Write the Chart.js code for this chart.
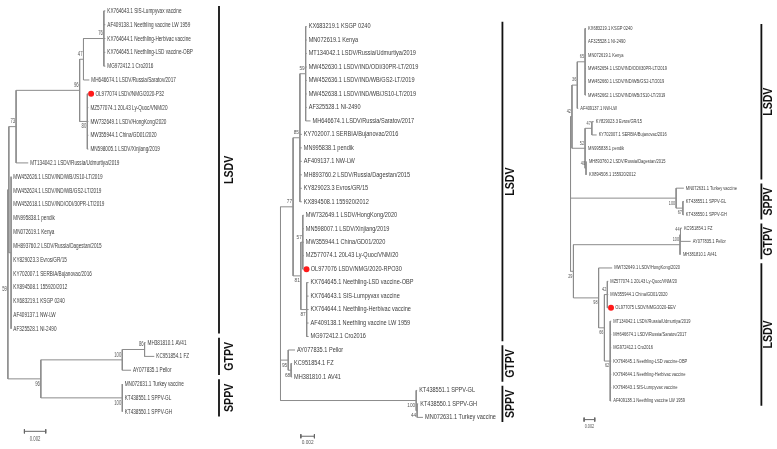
<!DOCTYPE html>
<html>
<head>
<meta charset="utf-8">
<script src="https://cdn.jsdelivr.net/npm/chart.js@4.4.1/dist/chart.umd.min.js"></script>
<style>
html, body { margin: 0; padding: 0; background: #fff; width: 777px; height: 449px; overflow: hidden; }
.panel { position: absolute; top: 0; }
</style>
</head>
<body>
<div class="panel" style="left:0px"><canvas id="tree1" width="260" height="449"></canvas></div>
<div class="panel" style="left:260px"><canvas id="tree2" width="260" height="449"></canvas></div>
<div class="panel" style="left:520px"><canvas id="tree3" width="257" height="449"></canvas></div>
<script>
// ---- tree 1 (P32) ----
const p1Names = [
  'KX764643.1 SIS-Lumpyvax vaccine', 'AF409138.1 Neethling vaccine LW 1959', 'KX764644.1 Neethling-Herbivac vaccine',
  'KX764645.1 Neethling-LSD vaccine-OBP', 'MG972412.1 Cro2016', 'MH646674.1 LSDV/Russia/Saratov/2017',
  'OL977074 LSDV/NMG/2020-P32', 'MZ577074.1 20L43 Ly-Quoc/VNM/20', 'MW732649.1 LSDV/HongKong/2020',
  'MW355944.1 China/GD01/2020', 'MN598005.1 LSDV/Xinjiang/2019', 'MT134042.1 LSDV/Russia/Udmurtiya/2019',
  'MW452626.1 LSDV/IND/WB/JS10-LT/2019', 'MW452624.1 LSDV/IND/WB/GS2-LT/2019', 'MW452618.1 LSDV/IND/ODI/30PR-LT/2019',
  'MN995838.1 pendik', 'MN072619.1 Kenya', 'MH893760.2 LSDV/Russia/Dagestan/2015', 'KY829023.3 Evros/GR/15',
  'KY702007.1 SERBIA/Bujanovac/2016', 'KX894508.1 155920/2012', 'KX683219.1 KSGP 0240', 'AF409137.1 NW-LW',
  'AF325528.1 NI-2490', 'MH381810.1 AV41', 'KC951854.1 FZ', 'AY077835.1 Pellor', 'MN072631.1 Turkey vaccine',
  'KT438551.1 SPPV-GL', 'KT438550.1 SPPV-GH'
];
const p1Tips = [
  0.00914, 0.00914, 0.00914, 0.00914, 0.00914, 0.00764,
  0.00755, 0.00755, 0.00755, 0.00755, 0.00755, 0.00191,
  0.00032, 0.00032, 0.00032, 0.00032, 0.00032, 0.00032, 0.00032, 0.00032, 0.00032, 0.00032, 0.00032, 0.00032,
  0.01291, 0.01373, 0.01155, 0.01077, 0.01077, 0.01077
];
// [id, depth, children, support]
const p1Nodes = [
  ['a76', 0.00900, [0, 1, 2, 3, 4], '76'],
  ['a47', 0.00709, ['a76', 5], '47'],
  ['a80', 0.00745, [6, 7, 8, 9, 10], '80'],
  ['a96', 0.00673, ['a47', 'a80'], '96'],
  ['a73', 0.00077, ['a96', 11], '73'],
  ['aL', 0.00030, [12, 13, 14, 15, 16, 17, 18, 19, 20, 21, 22, 23], ''],
  ['a59', 0.00009, ['a73', 'aL'], ''],
  ['a86', 0.01282, [24, 25], '86'],
  ['aG', 0.01073, ['a86', 26], '100'],
  ['aS', 0.01073, [27, 28, 29], '100'],
  ['aP', 0.00309, ['aG', 'aS'], '96'],
  ['aR', 0.00000, ['a59', 'aP'], '59']
];
const p1Study = 6;
const p1Clades = [['LSDV', 0, 23], ['GTPV', 24, 26], ['SPPV', 27, 29]];

// ---- tree 2 (RPO30) ----
const p2Names = [
  'KX683219.1 KSGP 0240', 'MN072619.1 Kenya', 'MT134042.1 LSDV/Russia/Udmurtiya/2019',
  'MW452630.1 LSDV/IND/ODI/30PR-LT/2019', 'MW452636.1 LSDV/IND/WB/GS2-LT/2019', 'MW452638.1 LSDV/IND/WB/JS10-LT/2019',
  'AF325528.1 NI-2490', 'MH646674.1 LSDV/Russia/Saratov/2017', 'KY702007.1 SERBIA/Bujanovac/2016',
  'MN995838.1 pendik', 'AF409137.1 NW-LW', 'MH893760.2 LSDV/Russia/Dagestan/2015', 'KY829023.3 Evros/GR/15',
  'KX894508.1 155920/2012', 'MW732649.1 LSDV/HongKong/2020', 'MN598007.1 LSDV/Xinjiang/2019',
  'MW355944.1 China/GD01/2020', 'MZ577074.1 20L43 Ly-Quoc/VNM/20', 'OL977076 LSDV/NMG/2020-RPO30',
  'KX764645.1 Neethling-LSD vaccine-OBP', 'KX764643.1 SIS-Lumpyvax vaccine', 'KX764644.1 Neethling-Herbivac vaccine',
  'AF409138.1 Neethling vaccine LW 1959', 'MG972412.1 Cro2016', 'AY077835.1 Pellor', 'KC951854.1 FZ',
  'MH381810.1 AV41', 'KT438551.1 SPPV-GL', 'KT438550.1 SPPV-GH', 'MN072631.1 Turkey vaccine'
];
const p2Tips = [
  0.00386, 0.00386, 0.00386, 0.00386, 0.00386, 0.00386, 0.00386, 0.00443,
  0.00314, 0.00314, 0.00314, 0.00314, 0.00314, 0.00314,
  0.00343, 0.00343, 0.00343, 0.00343, 0.00343,
  0.00414, 0.00414, 0.00414, 0.00414, 0.00414,
  0.00214, 0.00171, 0.00171, 0.02014, 0.02029, 0.02100
];
const p2Nodes = [
  ['b59', 0.00371, [0, 1, 2, 3, 4, 5, 6, 7], '59'],
  ['b85', 0.00286, ['b59', 8, 9, 10, 11, 12, 13], '85'],
  ['b57', 0.00329, [14, 15, 16, 17, 18], '57'],
  ['b87', 0.00386, [19, 20, 21, 22, 23], '87'],
  ['b81', 0.00300, ['b57', 'b87'], '81'],
  ['b77', 0.00186, ['b85', 'b81'], '77'],
  ['b68', 0.00157, [25, 26], '68'],
  ['b95', 0.00114, [24, 'b68'], '95'],
  ['b44', 0.02014, [28, 29], '44'],
  ['bS', 0.02000, [27, 'b44'], '100'],
  ['bR', 0.00000, ['b77', 'b95', 'bS'], '']
];
const p2Study = 18;
const p2Clades = [['LSDV', 0, 23], ['GTPV', 24, 26], ['SPPV', 27, 29]];

// ---- tree 3 (EEV) ----
const p3Names = [
  'KX683219.1 KSGP 0240', 'AF325528.1 NI-2490', 'MN072619.1 Kenya', 'MW452654.1 LSDV/IND/ODI/30PR-LT/2019',
  'MW452660.1 LSDV/IND/WB/GS2-LT/2019', 'MW452662.1 LSDV/IND/WB/JS10-LT/2019', 'AF409137.1 NW-LW',
  'KY829023.3 Evros/GR/15', 'KY702007.1 SERBIA/Bujanovac/2016', 'MN995838.1 pendik',
  'MH893760.2 LSDV/Russia/Dagestan/2015', 'KX894508.1 155920/2012', 'MN072631.1 Turkey vaccine',
  'KT438551.1 SPPV-GL', 'KT438550.1 SPPV-GH', 'KC951854.1 FZ', 'AY077835.1 Pellor', 'MH381810.1 AV41',
  'MW732649.1 LSDV/HongKong/2020', 'MZ577074.1 20L43 Ly-Quoc/VNM/20', 'MW355944.1 China/GD01/2020',
  'OL977075 LSDV/NMG/2020-EEV', 'MT134042.1 LSDV/Russia/Udmurtiya/2019', 'MH646674.1 LSDV/Russia/Saratov/2017',
  'MG972412.1 Cro2016', 'KX764645.1 Neethling-LSD vaccine-OBP', 'KX764644.1 Neethling-Herbivac vaccine',
  'KX764643.1 SIS-Lumpyvax vaccine', 'AF409138.1 Neethling vaccine LW 1959'
];
const p3Tips = [
  0.00291, 0.00291, 0.00291, 0.00291, 0.00291, 0.00291, 0.00145,
  0.00436, 0.00491, 0.00291, 0.00309, 0.00309,
  0.02127, 0.02127, 0.02127, 0.02091, 0.02255, 0.02073,
  0.00782, 0.00709, 0.00709, 0.00709,
  0.00764, 0.00764, 0.00764, 0.00764, 0.00764, 0.00764, 0.00764
];
const p3Nodes = [
  ['c65', 0.00273, [0, 1, 2, 3, 4, 5], '65'],
  ['c36', 0.00127, ['c65', 6], '36'],
  ['c47', 0.00400, [7, 8], '47'],
  ['c40', 0.00291, [10, 11], '40'],
  ['c52', 0.00273, ['c47', 9, 'c40'], '52'],
  ['c42', 0.00027, ['c36', 'c52'], '42'],
  ['c67', 0.02109, [13, 14], '67'],
  ['cS', 0.01982, [12, 'c67'], '100'],
  ['c44', 0.02064, [15, 16], '44'],
  ['cG', 0.02055, ['c44', 17], '100'],
  ['c42b', 0.00691, [19, 20, 21], '42'],
  ['c62', 0.00745, [22, 23, 24, 25, 26, 27, 28], '62'],
  ['c66', 0.00636, ['c42b', 'c62'], '66'],
  ['c98', 0.00527, [18, 'c66'], '98'],
  ['c29', 0.00055, ['cG', 'c98'], '29'],
  ['cR', 0.00000, ['c42', 'cS', 'c29'], '']
];
const p3Study = 21;
const p3Clades = [['LSDV', 0, 11], ['SPPV', 12, 14], ['GTPV', 15, 17], ['LSDV', 18, 28]];

const scaleLength = 0.002;

// layout / style per panel
const panels = [
  { id: 'tree1', names: p1Names, tips: p1Tips, nodes: p1Nodes, study: p1Study, clades: p1Clades,
    xMin: -0.000364, xMax: 0.02327, yMin: -0.4975, yMax: 31.41,
    cladeX: 0.0198, cladeTextX: 0.02082, barX: 0.00155, barY: 30.42, barTextY: 30.99,
    leafSize: 7.5, leafSx: 0.62, supSize: 6.5, supSx: 0.65, below: ['a80', 'aS', 'aP', 'aR'] },
  { id: 'tree2', names: p2Names, tips: p2Tips, nodes: p2Nodes, study: p2Study, clades: p2Clades,
    xMin: -0.00243, xMax: 0.03471, yMin: -1.676, yMax: 31.05,
    cladeX: 0.03271, cladeTextX: 0.03386, barX: 0.0030, barY: 30.4, barTextY: 30.83,
    leafSize: 6.5, leafSx: 0.86, supSize: 5.5, supSx: 0.86, below: ['b87', 'b81', 'b68', 'b95', 'b44', 'bS'] },
  { id: 'tree3', names: p3Names, tips: p3Tips, nodes: p3Nodes, study: p3Study, clades: p3Clades,
    xMin: -0.00873, xMax: 0.0380, yMin: -1.846, yMax: 31.31,
    cladeX: 0.03582, cladeTextX: 0.03727, barX: 0.00255, barY: 29.4, barTextY: 29.95,
    leafSize: 5.3, leafSx: 0.76, supSize: 5, supSx: 0.76, below: ['c67', 'cS', 'c62', 'c66', 'c98', 'c29'] }
];

function layoutTree(tips, nodes) {
  const pos = {};
  tips.forEach((t, i) => { pos[i] = { x: t, y: i }; });
  nodes.forEach(n => {
    const ys = n[2].map(c => pos[c].y);
    pos[n[0]] = { x: n[1], y: (Math.min(...ys) + Math.max(...ys)) / 2 };
  });
  return pos;
}

function squeezedText(ctx, str, x, y, font, sx, align) {
  ctx.save();
  ctx.translate(x, y);
  ctx.scale(sx, 1);
  ctx.font = font;
  ctx.textAlign = align;
  ctx.textBaseline = 'middle';
  ctx.fillText(str, 0, 0);
  ctx.restore();
}

function renderTree(cfg) {
  const canvas = document.getElementById(cfg.id);
  const pos = layoutTree(cfg.tips, cfg.nodes);
  const pxPerUnit = canvas.width / (cfg.xMax - cfg.xMin);

  const branches = [];
  cfg.nodes.forEach(n => {
    const p = pos[n[0]];
    const ys = n[2].map(c => pos[c].y);
    branches.push({ x: p.x, y: Math.min(...ys) }, { x: p.x, y: Math.max(...ys) }, { x: null, y: null });
    n[2].forEach(c => {
      branches.push({ x: p.x, y: pos[c].y }, { x: pos[c].x, y: pos[c].y }, { x: null, y: null });
    });
  });

  const brackets = [];
  cfg.clades.forEach(c => {
    brackets.push({ x: cfg.cladeX, y: c[1] - 0.35 }, { x: cfg.cladeX, y: c[2] + 0.35 }, { x: null, y: null });
  });

  const tick = 0.15;
  const bar = [
    { x: cfg.barX, y: cfg.barY - tick }, { x: cfg.barX, y: cfg.barY + tick }, { x: null, y: null },
    { x: cfg.barX, y: cfg.barY }, { x: cfg.barX + scaleLength, y: cfg.barY }, { x: null, y: null },
    { x: cfg.barX + scaleLength, y: cfg.barY - tick }, { x: cfg.barX + scaleLength, y: cfg.barY + tick }
  ];

  const studyDot = [{ x: cfg.tips[cfg.study] + 2.8 / pxPerUnit, y: cfg.study }];

  const textPlugin = {
    id: 'treeText',
    afterDatasetsDraw(chart) {
      const ctx = chart.ctx;
      const xs = chart.scales.x, ys = chart.scales.y;
      const leafFont = cfg.leafSize + 'px "Liberation Sans", Arial, sans-serif';
      const supFont = cfg.supSize + 'px "Liberation Sans", Arial, sans-serif';

      ctx.fillStyle = '#3c3c3c';
      cfg.names.forEach((name, i) => {
        let px = xs.getPixelForValue(cfg.tips[i]) + 2;
        if (i === cfg.study) px += 5;
        squeezedText(ctx, name, px, ys.getPixelForValue(i), leafFont, cfg.leafSx, 'left');
      });

      ctx.fillStyle = '#555';
      cfg.nodes.forEach(n => {
        if (!n[3]) return;
        const p = pos[n[0]];
        const dy = cfg.below.includes(n[0]) ? 5 : -5;
        squeezedText(ctx, n[3], xs.getPixelForValue(p.x) - 1, ys.getPixelForValue(p.y) + dy, supFont, cfg.supSx, 'right');
      });

      squeezedText(ctx, '0.002', xs.getPixelForValue(cfg.barX + scaleLength / 2), ys.getPixelForValue(cfg.barTextY),
        supFont, cfg.supSx, 'center');

      ctx.fillStyle = '#111';
      cfg.clades.forEach(c => {
        ctx.save();
        ctx.translate(xs.getPixelForValue(cfg.cladeTextX), ys.getPixelForValue((c[1] + c[2]) / 2));
        ctx.rotate(-Math.PI / 2);
        ctx.scale(0.88, 1);
        ctx.font = 'bold 12px "Liberation Sans", Arial, sans-serif';
        ctx.textAlign = 'center';
        ctx.textBaseline = 'middle';
        ctx.fillText(c[0], 0, 0);
        ctx.restore();
      });
    }
  };

  new Chart(canvas.getContext('2d'), {
    type: 'scatter',
    data: {
      datasets: [
        { label: 'branches', data: branches, showLine: true, spanGaps: false, borderColor: '#8c8c8c',
          borderWidth: 1, pointRadius: 0, pointHoverRadius: 0 },
        { label: 'clades', data: brackets, showLine: true, spanGaps: false, borderColor: '#111',
          borderWidth: 1.8, pointRadius: 0, pointHoverRadius: 0 },
        { label: 'scale', data: bar, showLine: true, spanGaps: false, borderColor: '#666',
          borderWidth: 1, pointRadius: 0, pointHoverRadius: 0 },
        { label: 'study', data: studyDot, pointRadius: 3, pointBackgroundColor: '#ff1a1a',
          pointBorderColor: '#ff1a1a', pointBorderWidth: 0 }
      ]
    },
    options: {
      responsive: false,
      animation: false,
      layout: { padding: 0 },
      plugins: { legend: { display: false }, tooltip: { enabled: false } },
      scales: {
        x: { type: 'linear', display: false, min: cfg.xMin, max: cfg.xMax },
        y: { type: 'linear', display: false, reverse: true, min: cfg.yMin, max: cfg.yMax }
      }
    },
    plugins: [textPlugin]
  });
}

panels.forEach(renderTree);
</script>
</body>
</html>
